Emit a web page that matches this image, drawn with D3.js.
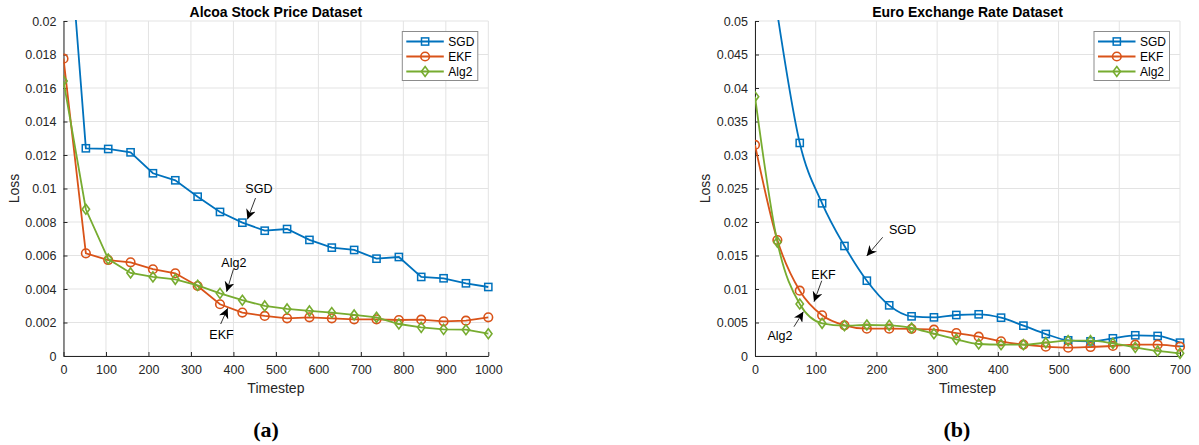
<!DOCTYPE html>
<html>
<head>
<meta charset="utf-8">
<script src="https://cdn.jsdelivr.net/npm/d3@7"></script>
<style>
  body { margin: 0; background: #fff; }
  svg { display: block; }
</style>
</head>
<body>
<script>
// Datos (20 puntos por serie)
const alcoaX = d3.range(20).map(i => i * 1000 / 19);
const alcoaSGD = [0.0296, 0.0124, 0.01236, 0.01216, 0.01091, 0.01049, 0.00951, 0.0086, 0.00796, 0.00748,
  0.00758, 0.00693, 0.00647, 0.00633, 0.00581, 0.00591, 0.00472, 0.00464, 0.00434, 0.00412];
const alcoaEKF = [0.01775, 0.00613, 0.00573, 0.00559, 0.00518, 0.00494, 0.00418, 0.00309, 0.00259, 0.00239,
  0.00225, 0.00231, 0.00225, 0.00219, 0.00219, 0.00215, 0.00217, 0.00207, 0.00211, 0.00231];
const alcoaAlg2 = [0.01642, 0.00876, 0.00579, 0.00496, 0.00472, 0.00458, 0.00422, 0.00374, 0.00333, 0.00299,
  0.00281, 0.00269, 0.00259, 0.00245, 0.00231, 0.00191, 0.00171, 0.00159, 0.00157, 0.00133];

const euroX = d3.range(20).map(i => i * 700 / 19);
const euroSGD = [0.075, 0.0511, 0.0318, 0.02279, 0.01642, 0.01124, 0.00756, 0.00592, 0.00577, 0.00612,
  0.00622, 0.00572, 0.00453, 0.00328, 0.00234, 0.00219, 0.00264, 0.00309, 0.00299, 0.00199];
const euroEKF = [0.0315, 0.01731, 0.00975, 0.00607, 0.00458, 0.00408, 0.00408, 0.00405, 0.00393, 0.00343,
  0.00289, 0.00219, 0.00169, 0.00139, 0.00124, 0.00134, 0.00149, 0.00169, 0.00169, 0.00139];
const euroAlg2 = [0.0387, 0.01701, 0.00776, 0.00488, 0.00453, 0.00463, 0.00458, 0.00418, 0.00333, 0.00249,
  0.00179, 0.00169, 0.00169, 0.00199, 0.00229, 0.00229, 0.00189, 0.00129, 0.00075, 0.0004];

const seriesNames = ["SGD", "EKF", "Alg2"];
const alcoaTicksX = d3.range(0, 1001, 100);
const alcoaTicksY = d3.range(0, 0.0201, 0.002);
const euroTicksX = d3.range(0, 701, 100);
const euroTicksY = d3.range(0, 0.0501, 0.005);

// Estilos
const colores = { SGD: "#0072BD", EKF: "#D95319", Alg2: "#77AC30" };
const marcas = { SGD: "square", EKF: "circle", Alg2: "diamond" };
const sans = "'Liberation Sans', Arial, Helvetica, sans-serif";
const serif = "'Liberation Serif', 'Times New Roman', serif";

const width = 1199;
const height = 445;

const svg = d3.select("body").append("svg")
  .attr("width", width)
  .attr("height", height)
  .style("font-family", sans);

const defs = svg.append("defs");
defs.append("marker")
  .attr("id", "punta")
  .attr("viewBox", "0 0 10 10")
  .attr("refX", 10).attr("refY", 5)
  .attr("markerWidth", 10).attr("markerHeight", 10)
  .attr("markerUnits", "userSpaceOnUse")
  .attr("orient", "auto")
  .append("path")
  .attr("d", "M0,0 L10,5 L0,10 L3,5 Z")
  .attr("fill", "#000");

function dibujarMarca(g, tipo, color) {
  if (tipo === "square") {
    g.append("rect").attr("x", -3.6).attr("y", -3.6).attr("width", 7.2).attr("height", 7.2)
      .attr("fill", "none").attr("stroke", color).attr("stroke-width", 1.5);
  } else if (tipo === "circle") {
    g.append("circle").attr("r", 4.3)
      .attr("fill", "none").attr("stroke", color).attr("stroke-width", 1.6);
  } else {
    g.append("path").attr("d", "M0,-5 L3.7,0 L0,5 L-3.7,0 Z")
      .attr("fill", "none").attr("stroke", color).attr("stroke-width", 1.6);
  }
}

function dibujarGrafico(cfg) {
  const { id, left, right, top, bottom, xMax, yMax, xs, series, ticksX, ticksY, titulo, curva, notas, caption } = cfg;

  const x = d3.scaleLinear().domain([0, xMax]).range([left, right]);
  const y = d3.scaleLinear().domain([0, yMax]).range([bottom, top]);
  const fmt = v => String(+v.toFixed(4));

  const g = svg.append("g");

  // Rejilla
  g.append("g").selectAll("line").data(ticksX).join("line")
    .attr("x1", d => x(d)).attr("x2", d => x(d))
    .attr("y1", top).attr("y2", bottom)
    .attr("stroke", "#e3e3e3").attr("stroke-width", 1);
  g.append("g").selectAll("line").data(ticksY).join("line")
    .attr("x1", left).attr("x2", right)
    .attr("y1", d => y(d)).attr("y2", d => y(d))
    .attr("stroke", "#e3e3e3").attr("stroke-width", 1);

  // Ejes
  const ejeX = g.append("g").attr("transform", `translate(0,${bottom})`)
    .call(d3.axisBottom(x).tickValues(ticksX).tickFormat(d => d).tickSizeInner(-4).tickSizeOuter(0).tickPadding(9));
  const ejeY = g.append("g").attr("transform", `translate(${left},0)`)
    .call(d3.axisLeft(y).tickValues(ticksY).tickFormat(fmt).tickSizeInner(-4).tickSizeOuter(0).tickPadding(7));
  [ejeX, ejeY].forEach(e => {
    e.attr("font-family", sans).attr("font-size", 12.5);
    e.select(".domain").attr("stroke", "#262626");
    e.selectAll(".tick line").attr("stroke", "#262626");
    e.selectAll("text").attr("fill", "#262626");
  });

  // Titulo y etiquetas
  g.append("text").attr("x", (left + right) / 2).attr("y", 16.5)
    .attr("text-anchor", "middle").attr("font-size", 14).attr("font-weight", "bold")
    .attr("fill", "#000").text(titulo);
  g.append("text").attr("x", (left + right) / 2).attr("y", bottom + 37)
    .attr("text-anchor", "middle").attr("font-size", 14).attr("fill", "#262626").text("Timestep");
  g.append("text").attr("transform", `translate(${left - 45},${(top + bottom) / 2}) rotate(-90)`)
    .attr("text-anchor", "middle").attr("font-size", 14).attr("fill", "#262626").text("Loss");

  // Recorte
  defs.append("clipPath").attr("id", "clip" + id)
    .append("rect").attr("x", left).attr("y", top - 1).attr("width", right - left + 6).attr("height", bottom - top + 7);

  const linea = d3.line().x(d => x(d[0])).y(d => y(d[1])).curve(curva);

  const capa = g.append("g").attr("clip-path", `url(#clip${id})`);
  seriesNames.forEach(nombre => {
    const pts = xs.map((xv, i) => [xv, series[nombre][i]]);
    capa.append("path").datum(pts)
      .attr("d", linea)
      .attr("fill", "none")
      .attr("stroke", colores[nombre])
      .attr("stroke-width", 1.8);
    pts.forEach(p => {
      if (p[1] > yMax) return;
      const m = capa.append("g").attr("transform", `translate(${x(p[0])},${y(p[1])})`);
      dibujarMarca(m, marcas[nombre], colores[nombre]);
    });
  });

  // Anotaciones con flechas
  notas.forEach(n => {
    g.append("text").attr("x", x(n.tx)).attr("y", y(n.ty)).attr("dy", "0.35em")
      .attr("text-anchor", "middle").attr("font-size", 12.5).attr("fill", "#000").text(n.texto);
    g.append("line")
      .attr("x1", x(n.ax0)).attr("y1", y(n.ay0))
      .attr("x2", x(n.ax1)).attr("y2", y(n.ay1))
      .attr("stroke", "#000").attr("stroke-width", 0.8)
      .attr("marker-end", "url(#punta)");
  });

  // Leyenda
  const lx = right - 86, ly = top + 10.5;
  const ley = g.append("g").attr("transform", `translate(${lx},${ly})`);
  ley.append("rect").attr("width", 75.5).attr("height", 49)
    .attr("fill", "#fff").attr("stroke", "#8c8c8c").attr("stroke-width", 1);
  seriesNames.forEach((nombre, i) => {
    const fy = 10 + i * 15;
    ley.append("line").attr("x1", 4).attr("x2", 41.5).attr("y1", fy).attr("y2", fy)
      .attr("stroke", colores[nombre]).attr("stroke-width", 1.8);
    const m = ley.append("g").attr("transform", `translate(22.8,${fy})`);
    dibujarMarca(m, marcas[nombre], colores[nombre]);
    ley.append("text").attr("x", 46).attr("y", fy).attr("dy", "0.36em")
      .attr("font-size", 12).attr("fill", "#000").text(nombre);
  });

  // Subtitulo (a)/(b)
  svg.append("text").attr("x", caption).attr("y", 437)
    .attr("text-anchor", "middle").attr("font-size", 22).attr("font-weight", "bold")
    .attr("font-family", serif)
    .attr("fill", "#000").text(id === "a" ? "(a)" : "(b)");
}

dibujarGrafico({
  id: "a", left: 63.5, right: 488.3, top: 21, bottom: 356,
  xMax: 1000, yMax: 0.02, xs: alcoaX,
  series: { SGD: alcoaSGD, EKF: alcoaEKF, Alg2: alcoaAlg2 },
  ticksX: alcoaTicksX, ticksY: alcoaTicksY,
  titulo: "Alcoa Stock Price Dataset", curva: d3.curveLinear, caption: 266,
  notas: [
    { texto: "SGD", tx: 460, ty: 0.00997, ax0: 452, ay0: 0.00943, ax1: 433, ay1: 0.00816 },
    { texto: "Alg2", tx: 401, ty: 0.00557, ax0: 400, ay0: 0.00518, ax1: 384, ay1: 0.00384 },
    { texto: "EKF", tx: 372, ty: 0.00125, ax0: 370, ay0: 0.00191, ax1: 386.5, ay1: 0.00285 }
  ]
});

dibujarGrafico({
  id: "b", left: 755, right: 1180, top: 21, bottom: 356,
  xMax: 700, yMax: 0.05, xs: euroX,
  series: { SGD: euroSGD, EKF: euroEKF, Alg2: euroAlg2 },
  ticksX: euroTicksX, ticksY: euroTicksY,
  titulo: "Euro Exchange Rate Dataset", curva: d3.curveMonotoneX, caption: 957,
  notas: [
    { texto: "SGD", tx: 243, ty: 0.0188, ax0: 210.3, ay0: 0.01772, ax1: 184, ay1: 0.01493 },
    { texto: "EKF", tx: 112.8, ty: 0.01209, ax0: 109.9, ay0: 0.01124, ax1: 97.2, ay1: 0.0081 },
    { texto: "Alg2", tx: 41.2, ty: 0.00299, ax0: 64.2, ay0: 0.00437, ax1: 79.6, ay1: 0.00661 }
  ]
});
</script>
</body>
</html>
